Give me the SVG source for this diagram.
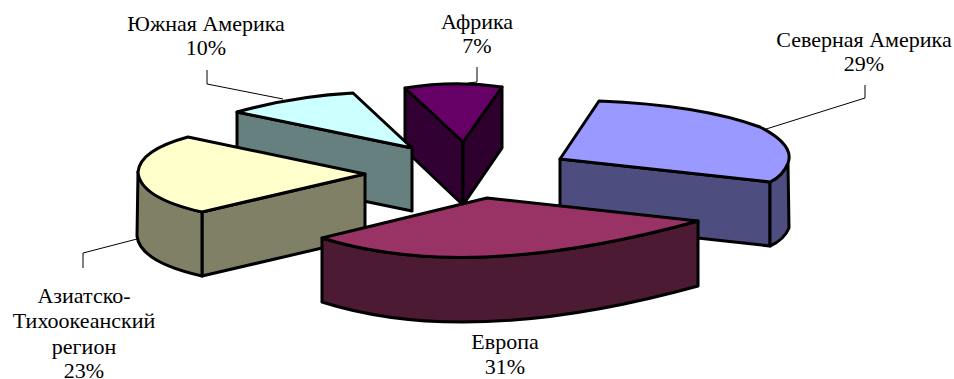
<svg xmlns="http://www.w3.org/2000/svg" width="954" height="379" viewBox="0 0 954 379">
<style>
.s{stroke:#000;stroke-width:3;stroke-linejoin:round}
.ld{fill:none;stroke:#000;stroke-width:1}
text{font-family:"Times New Roman","Liberation Serif","DejaVu Serif",serif;font-size:22px;fill:#000;text-anchor:middle}
</style>
<rect width="954" height="379" fill="#fff"/>
<g id="connectors">
<polyline class="ld" points="207,70 207,84 283,99"/>
<polyline class="ld" points="477,67 477,82 468,83"/>
<polyline class="ld" points="865,85 865,98 763,130"/>
<polyline class="ld" points="83,268 83,253 137,239"/>
</g>
<g id="africa">
<path class="s" fill="#330033" d="M405,88 L463,142 L463,205 L405,150 Z"/>
<path class="s" fill="#2e002e" d="M463,142 L502,87 L502,148 L463,205 Z"/>
<path class="s" fill="#660066" d="M405,88 Q454,80 502,87 L463,142 Z"/>
</g>
<g id="south-america">
<path class="s" fill="#668080" d="M237,112 L412,148 L412,211 L237,175 Z"/>
<path class="s" fill="#CCFFFF" d="M237,112 Q295,96 353,93 L412,148 Z"/>
</g>
<g id="asia-pacific">
<path class="s" fill="#808066" d="M202,212 L365,174 L365,238 L202,276 Z"/>
<path class="s" fill="#808066" d="M138,172 Q140,198 202,212 L202,276 Q140,262 137,236 Z"/>
<path class="s" fill="#FFFFCC" d="M365,174 L188,137 Q140,150 138,172 Q140,198 202,212 Z"/>
</g>
<g id="north-america">
<path class="s" fill="#4D4D80" d="M560,159 L770,182 L770,246 L560,223 Z"/>
<path class="s" fill="#4D4D80" d="M770,182 Q783,176 788,163 L789,228 Q784,240 770,246 Z"/>
<path class="s" fill="#9999FF" d="M599,101 Q700,105 760,127 Q795,145 788,163 Q783,176 770,182 L560,159 Z"/>
</g>
<g id="europe">
<path class="s" fill="#4D1A33" d="M322,238 Q470,284 698,221 L698,286 Q470,349 322,302 Z"/>
<path class="s" fill="#993366" d="M487,198 L698,221 Q470,284 322,238 Z"/>
</g>
<g id="labels">
<text x="206" y="31">Южная Америка</text>
<text x="206" y="55">10%</text>
<text x="477" y="29">Африка</text>
<text x="477" y="53">7%</text>
<text x="864" y="47">Северная Америка</text>
<text x="864" y="71">29%</text>
<text x="84" y="303">Азиатско-</text>
<text x="84" y="328">Тихоокеанский</text>
<text x="84" y="354">регион</text>
<text x="84" y="378">23%</text>
<text x="505" y="349">Европа</text>
<text x="505" y="374">31%</text>
</g>
</svg>
